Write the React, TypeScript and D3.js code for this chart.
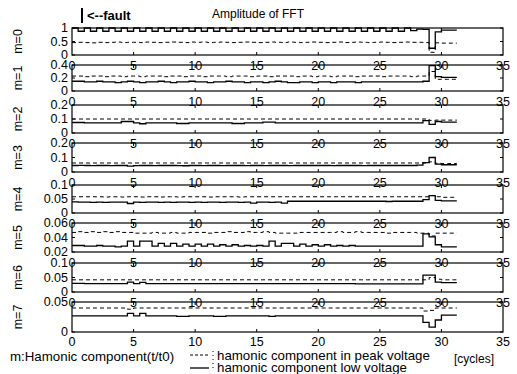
import * as d3 from 'd3';

// time axis: one sample every half cycle, from 0 to 31 cycles
const STEP = 0.5;
const X_TICKS = [0, 5, 10, 15, 20, 25, 30, 35];

const panelNames = ['m=0', 'm=1', 'm=2', 'm=3', 'm=4', 'm=5', 'm=6', 'm=7'];
const panelDomains: [number, number][] = [[0, 1], [0, 0.4], [0, 0.2], [0, 0.2], [0, 0.1], [0.02, 0.06], [0, 0.1], [0, 0.05]];
const yTickValues = [[0, 0.5, 1], [0, 0.2, 0.4], [0, 0.1, 0.2], [0, 0.1, 0.2], [0, 0.05, 0.1], [0.02, 0.04, 0.06], [0, 0.05, 0.1], [0, 0.05]];
const yTickLabels = [['0', '0.5', '1'], ['0', '0.2', '0.4'], ['0', '0.1', '0.2'], ['0', '0.1', '0.2'], ['0', '0.05', '0.1'], ['0.02', '0.04', '0.06'], ['0', '0.05', '0.1'], ['0', '0.05']];

// harmonic component in low voltage (solid)
const m0Low = [1, .88, 1, .88, 1, .88, 1, .88, 1, .88, 1, .88, 1, .88, 1, .88, 1, .88, 1, .88,
	1, .88, 1, .88, 1, .88, 1, .88, 1, .88, 1, .88, 1, .88, 1, .88, 1, .88, 1, .88,
	1, .88, 1, .88, 1, .88, 1, .88, 1, .88, 1, .88, 1, .88, 1, .9, .96, .95, .25, .86,
	.92, .92, .92];
const m1Low = [.15, .15, .14, .14, .15, .14, .14, .13, .14, .15, .14, .13, .14, .14, .15, .14, .13, .14, .14, .15,
	.14, .14, .13, .14, .14, .15, .14, .14, .13, .14, .14, .13, .14, .15, .14, .13, .13, .14, .14, .13,
	.14, .14, .13, .14, .14, .14, .13, .14, .14, .14, .14, .14, .14, .14, .14, .14, .14, .15, .39, .22,
	.21, .21, .21];
const m2Low = [.075, .075, .072, .072, .072, .072, .072, .072, .082, .082, .072, .066, .072, .072, .072, .072, .072, .068, .068, .072,
	.072, .072, .072, .072, .072, .072, .068, .068, .072, .072, .072, .078, .078, .072, .072, .072, .072, .072, .072, .072,
	.072, .072, .072, .072, .072, .072, .072, .072, .072, .072, .072, .072, .072, .072, .072, .072, .072, .088, .062, .082,
	.078, .078, .078];
const m3Low = [.045, .046, .045, .044, .045, .045, .044, .045, .045, .04, .044, .045, .045, .044, .045, .045, .045, .044, .043, .045,
	.045, .044, .045, .045, .044, .045, .045, .045, .044, .045, .045, .044, .045, .045, .045, .044, .045, .045, .045, .045,
	.045, .045, .044, .045, .045, .045, .045, .044, .045, .045, .045, .045, .045, .045, .045, .045, .048, .065, .1, .055,
	.05, .05, .05];
const m4Low = [.04, .039, .039, .038, .039, .038, .039, .039, .039, .034, .039, .038, .039, .039, .038, .039, .038, .039, .039, .038,
	.039, .038, .039, .039, .038, .039, .039, .038, .039, .035, .039, .039, .038, .039, .035, .042, .042, .042, .042, .042,
	.042, .042, .042, .042, .042, .042, .042, .042, .042, .042, .042, .041, .042, .042, .042, .042, .042, .048, .062, .045,
	.043, .043, .043];
const m5Low = [.029, .029, .028, .028, .029, .028, .028, .027, .028, .035, .028, .035, .035, .028, .032, .028, .032, .028, .031, .028,
	.031, .028, .031, .028, .03, .028, .03, .028, .029, .028, .029, .028, .035, .028, .032, .032, .028, .031, .028, .03, .028,
	.03, .028, .029, .028, .029, .028, .028, .028, .028, .028, .028, .028, .028, .028, .028, .028, .045, .041, .03,
	.027, .027, .027];
const m6Low = [.03, .03, .029, .029, .029, .029, .029, .029, .029, .034, .029, .033, .029, .029, .029, .029, .029, .029, .029, .029,
	.029, .029, .029, .029, .029, .029, .029, .029, .029, .029, .029, .029, .029, .029, .029, .029, .029, .029, .029, .029,
	.029, .029, .029, .029, .029, .029, .028, .028, .028, .028, .028, .028, .028, .028, .028, .028, .028, .058, .058, .034,
	.032, .032, .032];
const m7Low = [.027, .027, .027, .027, .027, .027, .027, .027, .027, .031, .027, .031, .027, .027, .027, .027, .027, .026, .026, .027,
	.027, .027, .027, .026, .026, .027, .027, .027, .027, .027, .027, .027, .026, .027, .027, .027, .027, .027, .027, .027,
	.027, .027, .027, .027, .027, .027, .027, .027, .027, .027, .027, .027, .027, .027, .027, .027, .027, .016, .008, .02,
	.028, .028, .028];

// harmonic component in peak voltage (dashed)
const m0Peak = [.46, .47, .46, .45, .47, .46, .47, .48, .46, .47, .47, .46, .48, .47, .46, .47, .48, .47, .46, .48,
	.47, .48, .46, .47, .48, .47, .46, .47, .48, .47, .46, .47, .48, .47, .46, .48, .47, .46, .47, .48,
	.47, .46, .47, .48, .46, .47, .48, .47, .46, .47, .48, .47, .46, .47, .48, .47, .47, .46, .1, .45,
	.44, .44, .44];
const m1Peak = [.23, .23, .22, .23, .23, .22, .23, .23, .22, .23, .23, .22, .23, .23, .23, .22, .23, .23, .22, .23,
	.23, .22, .23, .23, .23, .22, .23, .23, .23, .22, .23, .23, .22, .23, .23, .23, .22, .23, .23, .22,
	.23, .23, .22, .23, .23, .23, .22, .23, .23, .23, .22, .23, .23, .23, .23, .22, .23, .23, .3, .18,
	.18, .18, .18];
const m2Peak = [.1, .1, .1, .1, .1, .1, .1, .1, .1, .1, .1, .1, .1, .1, .1, .1, .1, .1, .1, .1,
	.1, .1, .1, .1, .1, .1, .1, .1, .1, .1, .1, .1, .1, .1, .1, .1, .1, .1, .1, .1,
	.1, .1, .1, .1, .1, .1, .1, .1, .1, .1, .1, .1, .1, .1, .1, .1, .1, .1, .09, .092,
	.092, .092, .092];
const m3Peak = [.062, .062, .062, .062, .062, .062, .062, .062, .062, .062, .062, .062, .062, .062, .062, .062, .062, .062, .062, .062,
	.062, .062, .062, .062, .062, .062, .062, .062, .062, .062, .062, .062, .062, .062, .062, .062, .062, .062, .062, .062,
	.062, .062, .062, .062, .062, .062, .062, .062, .062, .062, .062, .062, .062, .062, .062, .062, .062, .062, .07, .06,
	.058, .058, .058];
const m4Peak = [.058, .058, .058, .058, .058, .057, .058, .058, .057, .058, .058, .057, .058, .058, .057, .058, .058, .057, .058, .058,
	.058, .058, .057, .058, .058, .058, .058, .057, .058, .058, .058, .058, .058, .058, .058, .058, .058, .058, .058, .058,
	.058, .058, .058, .058, .058, .058, .058, .058, .058, .058, .058, .058, .058, .058, .058, .058, .058, .058, .062, .058,
	.056, .056, .056];
const m5Peak = [.047, .048, .047, .048, .047, .048, .047, .048, .047, .047, .046, .046, .046, .047, .046, .046, .047, .046, .046, .047,
	.047, .047, .046, .047, .047, .048, .047, .047, .048, .047, .047, .048, .047, .046, .046, .046, .046, .047, .047, .047,
	.047, .047, .047, .048, .047, .047, .048, .047, .047, .047, .047, .046, .047, .047, .047, .047, .046, .046, .042, .046,
	.046, .046, .046];
const m6Peak = [.042, .042, .042, .042, .042, .042, .042, .042, .042, .042, .042, .042, .042, .042, .042, .042, .042, .042, .042, .042,
	.042, .042, .042, .042, .042, .042, .042, .042, .042, .042, .042, .042, .042, .042, .042, .042, .042, .042, .042, .042,
	.042, .042, .042, .042, .042, .042, .042, .042, .042, .042, .042, .042, .042, .042, .042, .042, .042, .042, .05, .044,
	.042, .042, .042];
const m7Peak = [.04, .04, .04, .04, .04, .04, .04, .04, .04, .038, .04, .04, .04, .04, .04, .04, .04, .04, .04, .04,
	.04, .04, .04, .04, .04, .04, .04, .04, .04, .04, .04, .04, .04, .04, .04, .04, .04, .04, .04, .04,
	.04, .04, .04, .04, .04, .04, .04, .04, .04, .04, .04, .04, .04, .04, .04, .04, .04, .035, .036, .04,
	.04, .04, .04];

const lowSeries = [m0Low, m1Low, m2Low, m3Low, m4Low, m5Low, m6Low, m7Low];
const peakSeries = [m0Peak, m1Peak, m2Peak, m3Peak, m4Peak, m5Peak, m6Peak, m7Peak];

// layout of the stacked panels (scan is slightly uneven)
const panelTops = [28, 65, 105, 143, 185, 223, 263, 302];
const panelBottoms = [55, 91, 133, 172, 213, 252, 292, 332];
const LEFT = 72;
const RIGHT = 503;
const FONT = 'Liberation Sans, Arial, sans-serif';

const toPoints = (vals: number[]) => {
	const pts: [number, number][] = vals.map((v, i) => [i * STEP, v]);
	pts.push([vals.length * STEP - 0.25, vals[vals.length - 1]]);
	return pts;
};

const Panel = ({ idx }: { idx: number }) => {
	const top = panelTops[idx];
	const bottom = panelBottoms[idx];
	const x = d3.scaleLinear().domain([0, 35]).range([LEFT, RIGHT]);
	const y = d3.scaleLinear().domain(panelDomains[idx]).range([bottom, top]);
	const line = d3.line<[number, number]>()
		.x(d => x(d[0]))
		.y(d => y(d[1]))
		.curve(d3.curveStepAfter);
	const yMid = (top + bottom) / 2;
	const inner = X_TICKS.filter(t => t > 0 && t < 35);
	// the last panel's labels sit a little higher, clear of the legend
	const labelY = idx === panelNames.length - 1 ? bottom + 14 : bottom + 15;
	return (
		<g>
			<path d={line(toPoints(peakSeries[idx])) || ''} fill="none" stroke="#000" strokeWidth={1} strokeDasharray="4 3" />
			<path d={line(toPoints(lowSeries[idx])) || ''} fill="none" stroke="#000" strokeWidth={1.3} />
			<rect x={LEFT} y={top} width={RIGHT - LEFT} height={bottom - top} fill="none" stroke="#000" strokeWidth={1.2} />
			{inner.map(t => (
				<g key={t}>
					<line x1={x(t)} x2={x(t)} y1={bottom} y2={bottom - 3} stroke="#000" />
					<line x1={x(t)} x2={x(t)} y1={top} y2={top + 3} stroke="#000" />
				</g>
			))}
			{yTickValues[idx].map(v => (
				<g key={v}>
					<line x1={LEFT} x2={LEFT + 3} y1={y(v)} y2={y(v)} stroke="#000" />
					<line x1={RIGHT} x2={RIGHT - 3} y1={y(v)} y2={y(v)} stroke="#000" />
				</g>
			))}
			{yTickValues[idx].map((v, i) => (
				<text key={'l' + v} x={LEFT - 4} y={y(v) + 4} textAnchor="end" fontSize={12.5} fontFamily={FONT}>{yTickLabels[idx][i]}</text>
			))}
			{X_TICKS.map(t => (
				<text key={'x' + t} x={x(t)} y={labelY} textAnchor="middle" fontSize={12.5} fontFamily={FONT}>{t}</text>
			))}
			<text transform={`translate(22,${yMid}) rotate(-90)`} textAnchor="middle" fontSize={12.5} fontFamily={FONT}>{panelNames[idx]}</text>
		</g>
	);
};

export default function App() {
	return (
		<svg width={517} height={374} style={{ position: 'absolute', left: 0, top: 0, background: '#fff' }}>
			<rect width={517} height={374} fill="#fff" />
			<line x1={82} x2={82} y1={8} y2={23} stroke="#000" strokeWidth={2} />
			<text x={87} y={20} fontSize={13} fontWeight="bold" fontFamily={FONT}>{'<--fault'}</text>
			<text x={258} y={18} textAnchor="middle" fontSize={12} fontFamily={FONT}>Amplitude of FFT</text>
			{panelNames.map((_, i) => <Panel key={i} idx={i} />)}
			<text x={10} y={361} fontSize={13.3} fontFamily={FONT}>m:Hamonic component(t/t0)</text>
			<line x1={190} x2={208} y1={355} y2={355} stroke="#000" strokeDasharray="3 2" />
			<line x1={190} x2={209} y1={368} y2={368} stroke="#000" strokeWidth={1.3} />
			<line x1={213} x2={213} y1={351} y2={371} stroke="#000" strokeDasharray="1 3" />
			<text x={217} y={359.5} fontSize={13.3} fontFamily={FONT}>hamonic component in peak voltage</text>
			<text x={217} y={371.5} fontSize={13.3} fontFamily={FONT}>hamonic component low voltage</text>
			<text x={454} y={363} fontSize={12} fontFamily={FONT}>[cycles]</text>
		</svg>
	);
}
